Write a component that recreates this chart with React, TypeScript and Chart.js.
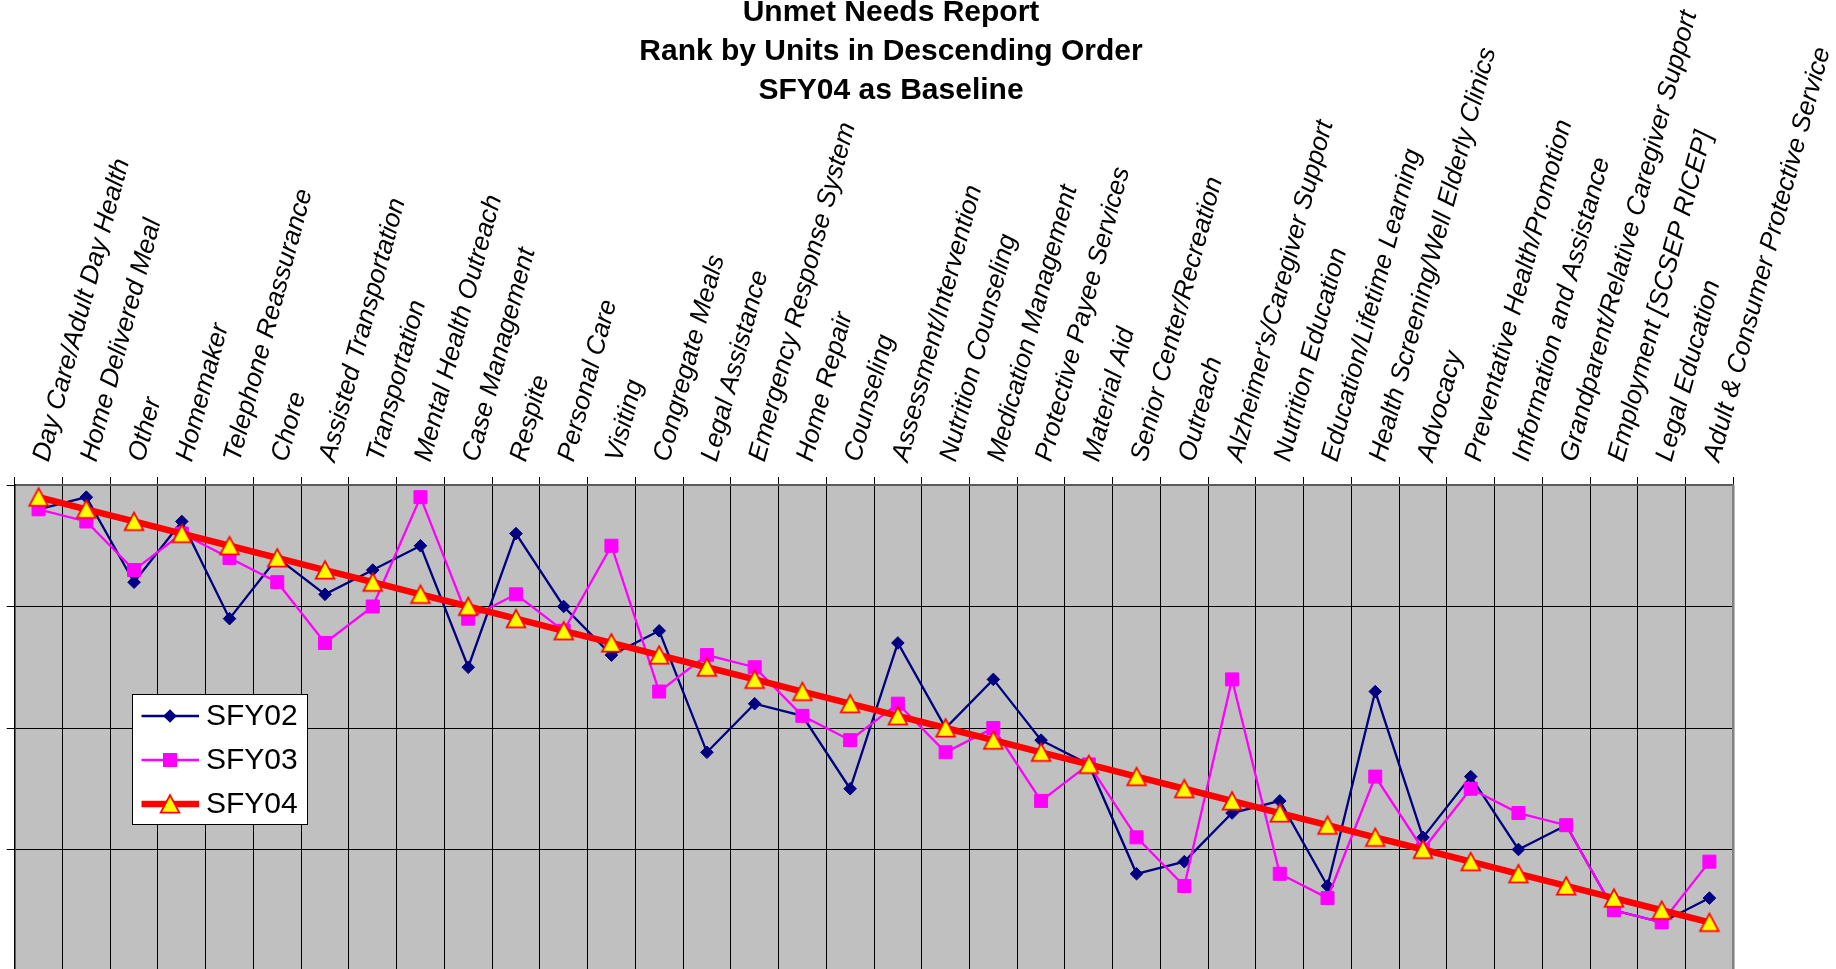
import React, { useEffect, useRef } from 'react';
import { Chart, registerables } from 'chart.js';

Chart.register(...registerables);

const categories: string[] = [
  'Day Care/Adult Day Health', 'Home Delivered Meal', 'Other', 'Homemaker', 'Telephone Reassurance',
  'Chore', 'Assisted Transportation', 'Transportation', 'Mental Health Outreach', 'Case Management',
  'Respite', 'Personal Care', 'Visiting', 'Congregate Meals', 'Legal Assistance',
  'Emergency Response System', 'Home Repair', 'Counseling', 'Assessment/Intervention', 'Nutrition Counseling',
  'Medication Management', 'Protective Payee Services', 'Material Aid', 'Senior Center/Recreation', 'Outreach',
  "Alzheimer's/Caregiver Support", 'Nutrition Education', 'Education/Lifetime Learning',
  'Health Screening/Well Elderly Clinics', 'Advocacy', 'Preventative Health/Promotion',
  'Information and Assistance', 'Grandparent/Relative Caregiver Support', 'Employment [SCSEP RICEP]',
  'Legal Education', 'Adult & Consumer Protective Service',
];

const sfy02: number[] = [2, 1, 8, 3, 11, 6, 9, 7, 5, 15, 4, 10, 14, 12, 22, 18, 19, 25, 13, 20, 16, 21, 23, 32, 31, 27, 26, 33, 17, 29, 24, 30, 28, 35, 36, 34];
const sfy03: number[] = [2, 3, 7, 4, 6, 8, 13, 10, 1, 11, 9, 12, 5, 17, 14, 15, 19, 21, 18, 22, 20, 26, 23, 29, 33, 16, 32, 34, 24, 30, 25, 27, 28, 35, 36, 31];
const sfy04: number[] = [1, 2, 3, 4, 5, 6, 7, 8, 9, 10, 11, 12, 13, 14, 15, 16, 17, 18, 19, 20, 21, 22, 23, 24, 25, 26, 27, 28, 29, 30, 31, 32, 33, 34, 35, 36];

const seriesNames: string[] = ['SFY02', 'SFY03', 'SFY04'];
const titleLines: string[] = ['Unmet Needs Report', 'Rank by Units in Descending Order', 'SFY04 as Baseline'];
const yMin = 0;
const yMax = 40;
const yStep = 10;

const FONT = '"Liberation Sans", Arial, Helvetica, sans-serif';
const W = 1836;
const H = 971;
const PLOT_TOP = 485;
const PLOT_RIGHT = 1733.3;

function makeTriangle(): HTMLCanvasElement {
  const c = document.createElement('canvas');
  c.width = 24;
  c.height = 24;
  const ctx = c.getContext('2d')!;
  ctx.beginPath();
  ctx.moveTo(12, 3.2);
  ctx.lineTo(21.3, 20.6);
  ctx.lineTo(2.7, 20.6);
  ctx.closePath();
  ctx.fillStyle = '#FFFF00';
  ctx.fill();
  ctx.lineWidth = 1.8;
  ctx.strokeStyle = '#FF0000';
  ctx.lineJoin = 'miter';
  ctx.stroke();
  return c;
}

function zeroPadding(scale: any) {
  scale.paddingLeft = 0;
  scale.paddingRight = 0;
  scale.paddingTop = 0;
  scale.paddingBottom = 0;
}

export default function App() {
  const ref = useRef<HTMLCanvasElement>(null);

  useEffect(() => {
    const canvas = ref.current;
    if (!canvas) return;
    const tri = makeTriangle();

    const decorPlugin = {
      id: 'decor',
      beforeDraw(chart: any) {
        const { ctx, chartArea } = chart;
        ctx.save();
        ctx.fillStyle = '#C0C0C0';
        ctx.fillRect(chartArea.left, chartArea.top, chartArea.right - chartArea.left, chartArea.bottom - chartArea.top);
        ctx.restore();
      },
      afterDraw(chart: any) {
        const { ctx, chartArea } = chart;
        ctx.save();
        ctx.strokeStyle = '#808080';
        ctx.lineWidth = 2.5;
        ctx.beginPath();
        ctx.moveTo(chartArea.right, chartArea.top);
        ctx.lineTo(chartArea.right, chartArea.bottom);
        ctx.stroke();

        ctx.fillStyle = '#000';
        ctx.font = `bold 30px ${FONT}`;
        ctx.textAlign = 'center';
        ctx.textBaseline = 'alphabetic';
        const baselines = [21, 60, 99];
        titleLines.forEach((t, i) => ctx.fillText(t, 891, baselines[i]));

        const bx = 132.5, by = 694.5, bw = 175, bh = 130;
        ctx.fillStyle = '#FFFFFF';
        ctx.fillRect(bx, by, bw, bh);
        ctx.strokeStyle = '#000';
        ctx.lineWidth = 1;
        ctx.strokeRect(bx, by, bw, bh);
        const rows = [716, 760, 804];
        const ds = chart.data.datasets;
        ctx.font = `30px ${FONT}`;
        ctx.textAlign = 'left';
        ctx.textBaseline = 'middle';
        for (let i = 0; i < 3; i++) {
          const d = ds[i];
          const y = rows[i];
          ctx.strokeStyle = d.borderColor;
          ctx.lineWidth = d.borderWidth;
          ctx.lineCap = 'butt';
          ctx.beginPath();
          ctx.moveTo(141.5, y);
          ctx.lineTo(199, y);
          ctx.stroke();
          const mx = 170;
          if (i === 0) {
            const r = 6.8;
            ctx.fillStyle = d.pointBackgroundColor;
            ctx.beginPath();
            ctx.moveTo(mx - r, y);
            ctx.lineTo(mx, y - r);
            ctx.lineTo(mx + r, y);
            ctx.lineTo(mx, y + r);
            ctx.closePath();
            ctx.fill();
          } else if (i === 1) {
            ctx.fillStyle = d.pointBackgroundColor;
            ctx.fillRect(mx - 7, y - 7, 14, 14);
          } else {
            ctx.drawImage(tri, mx - 12, y - 12);
          }
          ctx.fillStyle = '#000';
          ctx.fillText(d.label, 206, y + 1);
        }
        ctx.restore();
      },
    };

    const chart = new Chart(canvas, {
      type: 'line',
      data: {
        labels: categories,
        datasets: [
          {
            label: seriesNames[0],
            data: sfy02,
            borderColor: '#000080',
            backgroundColor: '#000080',
            borderWidth: 2.3,
            pointStyle: 'rectRot',
            pointRadius: 6.3,
            pointBackgroundColor: '#000080',
            pointBorderColor: '#000080',
            pointBorderWidth: 1,
            tension: 0,
            order: 2,
          },
          {
            label: seriesNames[1],
            data: sfy03,
            borderColor: '#FF00FF',
            backgroundColor: '#FF00FF',
            borderWidth: 2.3,
            pointStyle: 'rect',
            pointRadius: 9.2,
            pointBackgroundColor: '#FF00FF',
            pointBorderColor: '#FF00FF',
            pointBorderWidth: 1,
            tension: 0,
            order: 1,
          },
          {
            label: seriesNames[2],
            data: sfy04,
            borderColor: '#FF0000',
            backgroundColor: '#FFFF00',
            borderWidth: 6.5,
            pointStyle: tri as any,
            pointRadius: 10,
            pointBackgroundColor: '#FFFF00',
            pointBorderColor: '#FF0000',
            tension: 0,
            order: 0,
          },
        ],
      },
      options: {
        responsive: false,
        maintainAspectRatio: false,
        devicePixelRatio: 1,
        animation: false,
        events: [],
        layout: { autoPadding: false, padding: { left: 6.7, right: W - PLOT_RIGHT, top: 0, bottom: 0 } },
        plugins: {
          legend: { display: false },
          title: { display: false },
          tooltip: { enabled: false },
        },
        scales: {
          x: {
            type: 'category',
            position: 'top',
            offset: true,
            grid: {
              offset: true,
              color: '#000000',
              lineWidth: 1,
              tickLength: 8,
              drawTicks: true,
            },
            border: { display: true, color: '#5a5a5a', width: 2 },
            ticks: {
              autoSkip: false,
              minRotation: 75,
              maxRotation: 75,
              padding: 12,
              labelOffset: 33,
              color: '#000000',
              font: { family: FONT, size: 26, style: 'italic' },
            },
            afterFit: (scale: any) => {
              scale.height = PLOT_TOP;
              zeroPadding(scale);
            },
          },
          y: {
            type: 'linear',
            position: 'left',
            reverse: true,
            min: yMin,
            max: yMax,
            ticks: { display: false, stepSize: yStep },
            grid: { color: '#000000', lineWidth: 1, tickLength: 8, drawTicks: true },
            border: { display: true, color: '#000000', width: 1.5 },
            afterFit: (scale: any) => {
              scale.width = 8;
              zeroPadding(scale);
            },
          },
        },
      },
      plugins: [decorPlugin],
    } as any);

    return () => chart.destroy();
  }, []);

  return (
    <div style={{ position: 'fixed', left: 0, top: 0, width: W, height: H, background: '#ffffff', overflow: 'hidden' }}>
      <canvas ref={ref} width={W} height={H} style={{ display: 'block', width: W, height: H }} />
    </div>
  );
}
